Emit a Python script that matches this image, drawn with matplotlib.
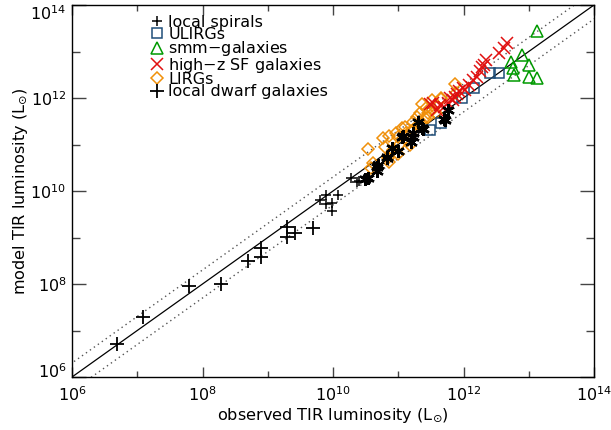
import matplotlib
matplotlib.use("Agg")
import matplotlib.pyplot as plt
import numpy as np
from matplotlib.ticker import FixedLocator, NullFormatter, FuncFormatter
import matplotlib.transforms as mtransforms

plt.rcParams['font.family'] = ['DejaVu Sans']
plt.rcParams['mathtext.fontset'] = 'dejavusans'
plt.rcParams['mathtext.default'] = 'regular'

# log10(observed), log10(model)
local_spirals_x = [9.80, 9.89, 9.89, 9.99, 9.99, 10.08, 10.28, 10.37, 10.40]
local_spirals_y = [9.81, 9.91, 9.71, 9.75, 9.56, 9.91, 10.27, 10.20, 10.21]

local_spirals_dense_x = [10.49, 10.54, 10.67, 10.69, 10.68, 10.82, 10.83, 10.90, 11.00, 11.05,
                         11.07, 11.20, 11.23, 11.23, 11.30, 11.38, 11.37, 11.70, 11.76, 11.71]
local_spirals_dense_y = [10.26, 10.29, 10.51, 10.56, 10.44, 10.72, 10.74, 10.92, 10.85, 11.17,
                         11.18, 11.06, 11.24, 11.17, 11.49, 11.33, 11.35, 11.54, 11.74, 11.53]

ulirgs_x = [11.48, 11.66, 11.98, 12.16, 12.41, 12.54]
ulirgs_y = [11.31, 11.46, 12.00, 12.22, 12.53, 12.53]

smm_x = [13.13, 12.89, 12.73, 13.00, 12.76, 12.77, 13.01, 13.13]
smm_y = [13.44, 12.92, 12.78, 12.72, 12.64, 12.49, 12.46, 12.44]

highz_x = [12.66, 12.55, 12.62, 12.35, 12.29, 12.25, 12.32, 12.15, 12.20, 12.09, 11.99, 12.03,
           11.93, 11.87, 11.84, 11.90, 11.76, 11.79, 11.64, 11.53, 11.48, 11.70, 11.60]
highz_y = [13.18, 12.96, 13.08, 12.82, 12.67, 12.57, 12.72, 12.39, 12.45, 12.28, 12.21, 12.18,
           12.14, 12.03, 11.96, 12.08, 11.89, 11.99, 11.85, 11.89, 11.88, 11.80, 11.75]

lirgs_x = [10.53, 10.59, 10.61, 10.76, 10.79, 10.84, 10.86, 10.86, 10.97, 11.00, 11.02, 11.00,
           11.05, 11.10, 11.12, 11.18, 11.20, 11.23, 11.23, 11.28, 11.30, 11.33, 11.36, 11.41,
           11.42, 11.46, 11.46, 11.51, 11.51, 11.58, 11.58, 11.66, 11.66, 11.87, 11.89, 11.35,
           11.15, 10.92]
lirgs_y = [10.90, 10.49, 10.60, 11.13, 10.95, 10.72, 11.18, 10.62, 11.24, 11.17, 11.02, 10.80,
           11.35, 11.38, 11.25, 10.99, 11.28, 11.49, 11.31, 11.60, 11.42, 11.67, 11.88, 11.56,
           11.78, 11.60, 11.67, 11.74, 11.96, 11.85, 11.67, 11.97, 12.00, 12.31, 12.10, 11.45,
           11.10, 10.88]

dwarfs_x = [6.69, 7.09, 7.79, 8.29, 8.70, 8.89, 8.89, 9.29, 9.29, 9.41, 9.70]
dwarfs_y = [6.70, 7.28, 7.96, 7.99, 8.49, 8.77, 8.57, 9.23, 9.02, 9.10, 9.21]

ratio_band = 2.0
major_ticks = [1e6, 1e8, 1e10, 1e12, 1e14]
minor_ticks = [1e7, 1e9, 1e11, 1e13]

def p(v):
    return 10 ** np.array(v)

fig = plt.figure(figsize=(6.11, 4.30), dpi=100)
ax = fig.add_axes([72/611, 53/430, 522/611, 372/430])
ax.set_xscale('log')
ax.set_yscale('log')
ax.set_xlim(1e6, 1e14)
ax.set_ylim(1e6, 1e14)

line = np.array([1e5, 1e15])
ax.plot(line, line, color='black', lw=0.9, zorder=2)
ax.plot(line, line * ratio_band, color='#555555', lw=1.0, ls=(0, (1, 2.5)), zorder=2)
ax.plot(line, line / ratio_band, color='#555555', lw=1.0, ls=(0, (1, 2.5)), zorder=2)

c_blue = '#1f4e79'
c_green = '#009a00'
c_red = '#e01010'
c_orange = '#f0900a'

ax.plot(p(local_spirals_x), p(local_spirals_y), ls='none', marker='+', ms=7, mew=1.1,
        color='black', label='local spirals', zorder=5)
ax.plot(p(ulirgs_x), p(ulirgs_y), ls='none', marker='s', ms=7, mew=1.1, mfc='none',
        mec=c_blue, label='ULIRGs', zorder=4)
ax.plot(p(smm_x), p(smm_y), ls='none', marker='^', ms=8, mew=1.1, mfc='none',
        mec=c_green, label='smm$-$galaxies', zorder=4)
ax.plot(p(highz_x), p(highz_y), ls='none', marker='x', ms=8, mew=1.1,
        color=c_red, label='high$-$z SF galaxies', zorder=4)
ax.plot(p(lirgs_x), p(lirgs_y), ls='none', marker='D', ms=6, mew=1.1, mfc='none',
        mec=c_orange, label='LIRGs', zorder=3)
ax.plot(p(dwarfs_x), p(dwarfs_y), ls='none', marker='+', ms=10, mew=1.3,
        color='black', label='local dwarf galaxies', zorder=5)
ax.plot(p(local_spirals_dense_x), p(local_spirals_dense_y), ls='none', marker=(6, 2, 0),
        ms=9, mew=1.7, color='black', zorder=5)

for axis in (ax.xaxis, ax.yaxis):
    axis.set_major_locator(FixedLocator(major_ticks))
    axis.set_minor_locator(FixedLocator(minor_ticks))
    axis.set_minor_formatter(NullFormatter())
    axis.set_major_formatter(FuncFormatter(lambda v, pos: r'$10^{%d}$' % int(round(np.log10(v)))))

ax.tick_params(axis='both', which='both', direction='in', top=True, right=True,
               labelsize=11.5, color='#444444', width=1.0)
ax.tick_params(axis='x', which='major', length=7, pad=6)
ax.tick_params(axis='x', which='minor', length=4)
ax.tick_params(axis='y', which='major', length=10, pad=4)
ax.tick_params(axis='y', which='minor', length=6)

fig.canvas.draw()
ylabels = ax.get_yticklabels()
if ylabels:
    ylabels[0].set_transform(ylabels[0].get_transform() +
                             mtransforms.ScaledTranslation(0, 7/100, fig.dpi_scale_trans))
    ylabels[-1].set_transform(ylabels[-1].get_transform() +
                              mtransforms.ScaledTranslation(0, -7/100, fig.dpi_scale_trans))

for s in ax.spines.values():
    s.set_linewidth(1.0)

ax.set_xlabel(r'observed TIR luminosity (L$_{\odot}$)', fontsize=11.6, labelpad=2)
ax.set_ylabel(r'model TIR luminosity (L$_{\odot}$)', fontsize=11.6, labelpad=0)

leg = ax.legend(loc='upper left', bbox_to_anchor=(0.1475, 0.974), frameon=False,
                fontsize=11.5, handlelength=1.0, handletextpad=0.2, labelspacing=-0.17,
                borderpad=0, borderaxespad=0, numpoints=1)

fig.savefig('out.png', dpi=100)
